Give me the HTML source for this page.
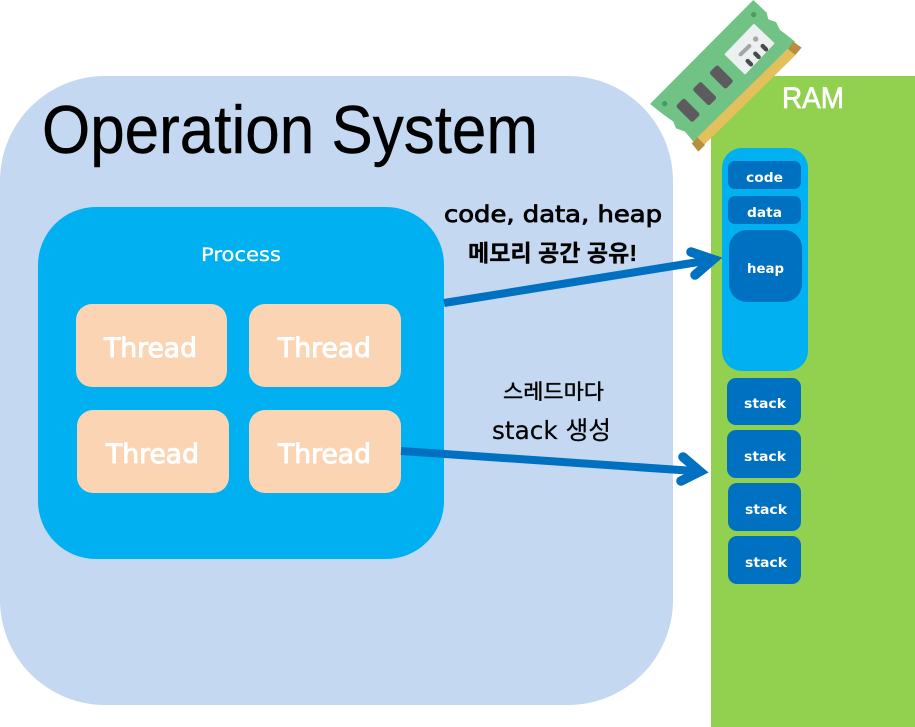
<!DOCTYPE html>
<html><head><meta charset="utf-8"><style>
html,body{margin:0;padding:0;background:#fff}
svg{display:block}
text{font-family:"DejaVu Sans","Noto Sans CJK KR",sans-serif}
text.l{font-family:"Liberation Sans","Noto Sans CJK KR",sans-serif}
</style></head><body>
<svg width="915" height="727" viewBox="0 0 915 727" xmlns="http://www.w3.org/2000/svg">
<rect width="915" height="727" fill="#fff"/>
<rect x="0" y="76" width="673" height="629" rx="105" ry="105" fill="#c5d8f1"/>
<rect x="711" y="76" width="204" height="651" fill="#92d050"/>
<text class="l" x="42" y="153" font-size="68" fill="#000" stroke="#000" stroke-width=".4" textLength="496" lengthAdjust="spacingAndGlyphs">Operation System</text>
<text class="l" x="782" y="108" font-size="30" fill="#fff" stroke="#fff" stroke-width=".7" textLength="62" lengthAdjust="spacingAndGlyphs">RAM</text>

<rect x="38" y="207" width="406" height="352" rx="58" fill="#00b0f0"/>
<text x="201" y="261" font-size="19" fill="#fff" stroke="#fff" stroke-width=".3" textLength="80" lengthAdjust="spacingAndGlyphs">Process</text>
<g fill="#fbd4b4">
<rect x="76" y="304" width="151" height="83" rx="16"/>
<rect x="249" y="304" width="152" height="83" rx="16"/>
<rect x="77" y="410" width="152" height="83" rx="16"/>
<rect x="249" y="410" width="152" height="83" rx="16"/>
</g>
<g fill="#fff" stroke="#fff" stroke-width="1" font-size="27">
<text x="104" y="357" textLength="93" lengthAdjust="spacingAndGlyphs">Thread</text>
<text x="278" y="357" textLength="93" lengthAdjust="spacingAndGlyphs">Thread</text>
<text x="106" y="463" textLength="93" lengthAdjust="spacingAndGlyphs">Thread</text>
<text x="278" y="463" textLength="93" lengthAdjust="spacingAndGlyphs">Thread</text>
</g>

<rect x="722" y="148" width="86" height="223" rx="20" fill="#00b0f0"/>
<g fill="#0070c0">
<rect x="728" y="161" width="73" height="28" rx="7"/>
<rect x="728" y="196" width="73" height="28" rx="7"/>
<rect x="729" y="230" width="73" height="72" rx="18"/>
<rect x="727" y="378" width="74" height="47" rx="9"/>
<rect x="727" y="430" width="74" height="48" rx="9"/>
<rect x="728" y="483" width="73" height="48" rx="9"/>
<rect x="728" y="536" width="73" height="48" rx="9"/>
</g>
<g fill="#fff" font-size="13" font-weight="bold">
<text x="746" y="182" textLength="37" lengthAdjust="spacingAndGlyphs">code</text>
<text x="747" y="217" textLength="35" lengthAdjust="spacingAndGlyphs">data</text>
<text x="747" y="273" textLength="37" lengthAdjust="spacingAndGlyphs">heap</text>
<text x="744" y="408" textLength="42" lengthAdjust="spacingAndGlyphs">stack</text>
<text x="744" y="461" textLength="42" lengthAdjust="spacingAndGlyphs">stack</text>
<text x="745" y="514" textLength="42" lengthAdjust="spacingAndGlyphs">stack</text>
<text x="745" y="567" textLength="42" lengthAdjust="spacingAndGlyphs">stack</text>
</g>

<text x="444" y="222" font-size="23" stroke="#000" stroke-width=".8" fill="#000" textLength="218" lengthAdjust="spacingAndGlyphs">code, data, heap</text>
<text class="l" x="468" y="261" font-size="23" font-weight="bold" fill="#000" stroke="#000" stroke-width=".3" textLength="169" lengthAdjust="spacingAndGlyphs">메모리 공간 공유!</text>
<text class="l" x="503" y="399" font-size="21" fill="#000" stroke="#000" stroke-width=".4" textLength="101" lengthAdjust="spacingAndGlyphs">스레드마다</text>
<text x="492" y="439" font-size="25" fill="#000" stroke="#000" stroke-width=".2" textLength="119" lengthAdjust="spacingAndGlyphs">stack 생성</text>

<g fill="none" stroke="#0070c0">
<line x1="444" y1="303" x2="714" y2="259.5" stroke-width="8"/>
<line x1="401" y1="451" x2="702" y2="471.5" stroke-width="8"/>
<polyline points="691,252 713,259.5 695,275" stroke-width="9.5" stroke-linecap="round" stroke-linejoin="miter"/>
<polyline points="683,457 700,471.5 681,481" stroke-width="9.5" stroke-linecap="round" stroke-linejoin="miter"/>
</g>

<g transform="translate(640,0) scale(0.33333)">
<polygon points="340,0 380,38 385,58 408,66 420,90 440,105 465,125 175,415 160,425 135,395 108,385 100,365 72,345 30,312" fill="#71c285"/>
<polygon points="443,147 467,165 190,437 172,412" fill="#e4c05c"/>
<polygon points="460,125 485,143 466,165 443,147" fill="#b5903f"/>
<polygon points="172,412 195,435 175,455 155,430" fill="#b5903f"/>
<circle cx="341" cy="44" r="8" fill="#4a9b5f"/>
<circle cx="74" cy="311" r="8" fill="#4a9b5f"/>
<g fill="#5c5c60">
<rect x="-17.5" y="-35" width="35" height="70" rx="7" transform="translate(244,231) rotate(-45)"/>
<rect x="-17.5" y="-35" width="35" height="70" rx="7" transform="translate(194,281) rotate(-45)"/>
<rect x="-17.5" y="-35" width="35" height="70" rx="7" transform="translate(144,331) rotate(-45)"/>
</g>
<polygon points="342,75 400,130 315,220 257,163" fill="#ecf0f1" stroke="#ecf0f1" stroke-width="6" stroke-linejoin="round"/>
<circle cx="347" cy="117" r="8" fill="#a5a5a5"/>
<line x1="302" y1="163" x2="328" y2="138" stroke="#a5a5a5" stroke-width="12" stroke-linecap="round"/>
<g stroke="#4a4a4e" stroke-width="13" stroke-linecap="round">
<line x1="368" y1="138" x2="378" y2="148"/>
<line x1="346" y1="161" x2="356" y2="171"/>
<line x1="323" y1="183" x2="333" y2="193"/>
</g>
</g>
</svg>
</body></html>
